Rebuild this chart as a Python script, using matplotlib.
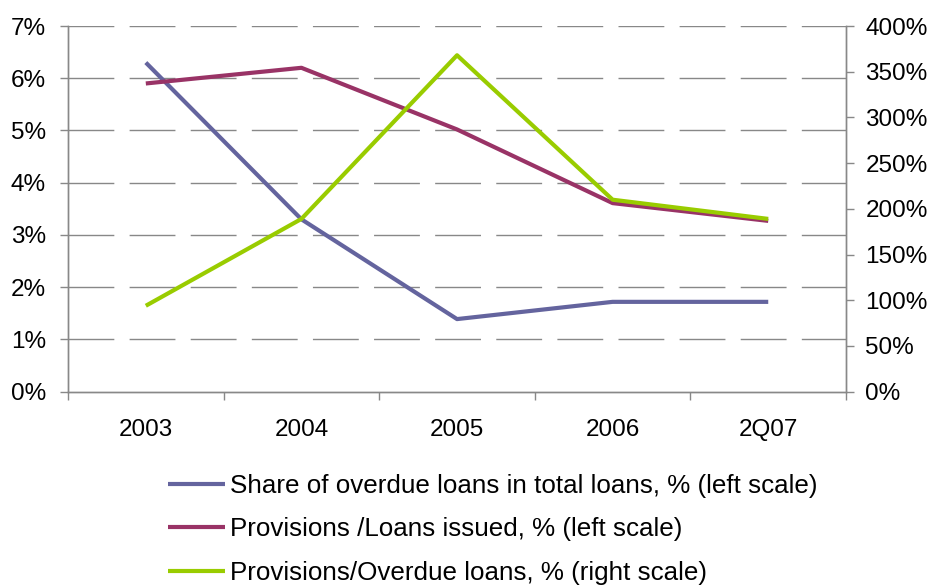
import matplotlib.pyplot as plt
import numpy as np
from matplotlib.ticker import FuncFormatter, MultipleLocator

plt.rcParams["font.family"] = ["Liberation Sans", "DejaVu Sans"]

periods = ["2003", "2004", "2005", "2006", "2Q07"]
overdue_share = [6.3, 3.3, 1.39, 1.72, 1.72]        # %, left scale
provisions_to_loans = [5.9, 6.2, 5.02, 3.61, 3.27]  # %, left scale
provisions_to_overdue = [94, 189, 368, 210, 189]    # %, right scale

labels = [
    "Share of overdue loans in total loans, % (left scale)",
    "Provisions /Loans issued, % (left scale)",
    "Provisions/Overdue loans, % (right scale)",
]
colors = ["#64649E", "#993366", "#99CC00"]
grey = "#888888"
fs = 17.5

fig = plt.figure(figsize=(9.33, 5.87), dpi=100)
ax = fig.add_axes([0.0729, 0.3327, 0.8339, 0.623])
ax2 = ax.twinx()

x = np.arange(len(periods))
l1, = ax.plot(x, overdue_share, color=colors[0], lw=3, solid_capstyle="butt")
l2, = ax.plot(x, provisions_to_loans, color=colors[1], lw=3, solid_capstyle="butt")
l3, = ax2.plot(x, provisions_to_overdue, color=colors[2], lw=3, solid_capstyle="butt")

ax.set_xlim(-0.5, len(periods) - 0.5)
ax.set_ylim(0, 7)
ax2.set_ylim(0, 400)

# dashed horizontal grid, the 0% line is the solid axis itself
for v in range(1, 8):
    ax.axhline(v, color=grey, lw=1, linestyle=(0, (33, 11)), zorder=0)

ax.yaxis.set_major_locator(MultipleLocator(1))
ax.yaxis.set_major_formatter(FuncFormatter(lambda v, _: f"{v:.0f}%"))
ax2.yaxis.set_major_locator(MultipleLocator(50))
ax2.yaxis.set_major_formatter(FuncFormatter(lambda v, _: f"{v:.0f}%"))

ax.set_xticks(x)
ax.set_xticklabels(periods)
ax.set_xticks(np.arange(-0.5, len(periods)), minor=True)
ax.tick_params(axis="x", which="major", length=0, pad=20, labelsize=fs)
ax.tick_params(axis="x", which="minor", length=6, width=1, color=grey, direction="out")
ax.tick_params(axis="y", length=6, width=1, color=grey, direction="out",
               pad=10, labelsize=fs)
ax2.tick_params(axis="y", length=6, width=1, color=grey, direction="out",
                pad=8, labelsize=fs)

for a in (ax, ax2):
    a.spines["top"].set_visible(False)
    for s in ("left", "right", "bottom"):
        a.spines[s].set_color(grey)
        a.spines[s].set_linewidth(1)

fig.legend([l1, l2, l3], labels, loc="upper left", bbox_to_anchor=(0.18, 0.193),
           frameon=False, fontsize=18.7, handlelength=2.2, handletextpad=0.2,
           labelspacing=0.76, borderaxespad=0, borderpad=0)

fig.savefig("out.png", dpi=100)
